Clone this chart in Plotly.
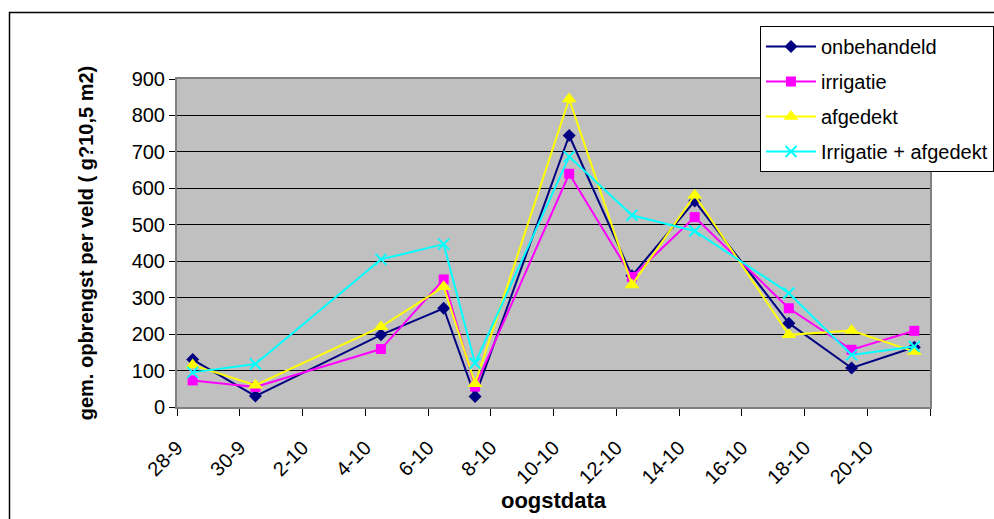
import pandas as pd
import plotly.graph_objects as go

# Harvest dates (day-month) and mean yield per plot for each treatment
YEAR = 2008
oogstdata = ["28-9", "30-9", "4-10", "6-10", "7-10", "10-10",
             "12-10", "14-10", "17-10", "19-10", "21-10"]
onbehandeld = [130, 30, 198, 271, 29, 745, 360, 565, 230, 107, 164]
irrigatie = [73, 55, 159, 350, 56, 640, 357, 521, 271, 157, 209]
afgedekt = [115, 60, 220, 330, 64, 845, 335, 581, 198, 210, 152]
irrigatie_afgedekt = [95, 118, 405, 447, 120, 687, 526, 483, 313, 143, 166]

series = [
    ("onbehandeld", onbehandeld, "#000080", "diamond", 10, 0),
    ("irrigatie", irrigatie, "#FF00FF", "square", 10, 0),
    ("afgedekt", afgedekt, "#FFFF00", "triangle-up", 13, 0),
    ("Irrigatie + afgedekt", irrigatie_afgedekt, "#00FFFF", "x-thin-open", 11, 2),
]

dates = pd.to_datetime([f"{d}-{YEAR}" for d in oogstdata], format="%d-%m-%Y")

# Date axis: each day is one slot, points sit in the middle of their day
half_day = pd.Timedelta(hours=12)
start = dates[0]
n_days = 24
x_range = [start - half_day, start + pd.Timedelta(days=n_days) - half_day]
tick_days = pd.date_range(start, periods=n_days // 2 + 1, freq="2D")
tickvals = [d - half_day for d in tick_days]
ticktext = [f"{d.day}-{d.month}" for d in tick_days[:-1]] + [""]

FONT = "Liberation Sans, Arial, sans-serif"

fig = go.Figure()
for i, (name, vals, color, symbol, size, lw) in enumerate(series):
    fig.add_trace(go.Scatter(
        x=dates, y=vals, name=name, mode="lines+markers",
        legendgroup=f"g{i}",
        line=dict(color=color, width=2),
        marker=dict(symbol=symbol, size=size, color=color,
                    line=dict(color=color, width=lw)),
    ))

W, H = 994, 519
ML, MR, MT, MB = 177, 64, 79, 112
pw, ph = W - ML - MR, H - MT - MB

def px_x(x):
    return (x - ML) / pw

def px_y(y):
    return (H - MB - y) / ph

fig.update_layout(
    width=W, height=H,
    margin=dict(l=ML, r=MR, t=MT, b=MB, pad=0, autoexpand=False),
    paper_bgcolor="white",
    plot_bgcolor="#C0C0C0",
    font=dict(family=FONT, size=20, color="black"),
    showlegend=True,
    legend=dict(
        x=px_x(760), y=px_y(26), xanchor="left", yanchor="top",
        bgcolor="white", bordercolor="black", borderwidth=1,
        font=dict(family=FONT, size=20, color="black"),
        itemwidth=50, tracegroupgap=6,
    ),
    xaxis=dict(
        type="date", range=x_range,
        tickmode="array", tickvals=tickvals, ticktext=ticktext,
        tickangle=-45, ticks="outside", ticklen=7, tickcolor="#000000",
        ticklabelstandoff=12,
        showgrid=False, showline=True, linecolor="#808080", linewidth=2,
        mirror=True, zeroline=False,
        title=dict(text="<b>oogstdata</b>", font=dict(size=22), standoff=2),
    ),
    yaxis=dict(
        range=[0, 900], dtick=100, tick0=0,
        ticks="outside", ticklen=6, tickcolor="#000000",
        showgrid=True, gridcolor="black", gridwidth=1,
        showline=True, linecolor="#808080", linewidth=2, mirror=True,
        zeroline=False,
        title=dict(text="<b>gem. opbrengst per veld ( g?10,5 m2)</b>",
                   font=dict(size=20), standoff=33),
    ),
    shapes=[dict(
        type="rect", xref="paper", yref="paper",
        x0=px_x(9.5), y0=px_y(H + 20), x1=px_x(W + 20), y1=px_y(12.5),
        line=dict(color="black", width=1.5), fillcolor="rgba(0,0,0,0)",
        layer="below",
    )],
)

fig.write_html("out.html")
